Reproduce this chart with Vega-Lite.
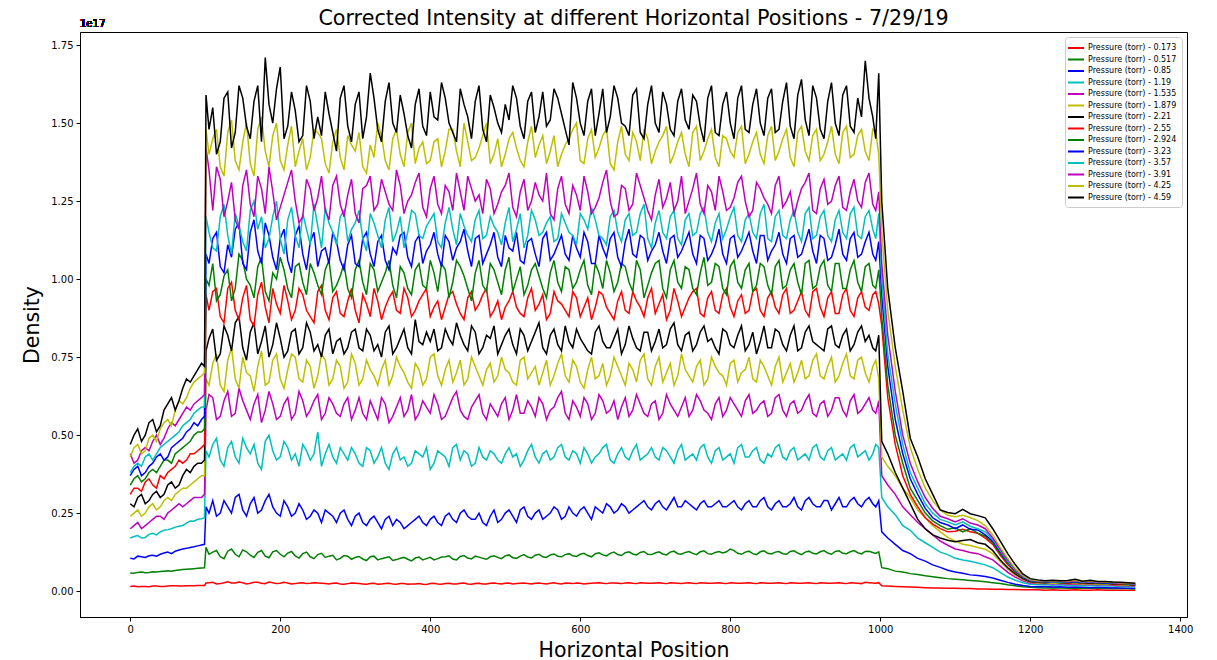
{
"$schema": "https://vega.github.io/schema/vega-lite/v6.json",
"width": 1107,
"height": 585,
"autosize": "none",
"padding": {"left": 80, "top": 32, "right": 30, "bottom": 43},
"title": {"text": "Corrected Intensity at different Horizontal Positions - 7/29/19", "font": "DejaVu Sans", "fontSize": 20.7, "fontWeight": "normal", "color": "black", "anchor": "middle", "frame": "group", "offset": -11},
"config": {
  "view": {"stroke": "black", "strokeWidth": 1},
  "font": "DejaVu Sans",
  "axis": {"labelFont": "DejaVu Sans", "labelFontSize": 10, "labelColor": "black", "tickColor": "black", "domainColor": "black", "tickSize": 4, "grid": false, "titleFont": "DejaVu Sans", "titleFontSize": 20.5, "titleFontWeight": "normal", "titleColor": "black", "labelPadding": 3}
},
"datasets": {
  "series": [
    {"key": "a", "label": "Pressure (torr) - 0.173"},
    {"key": "b", "label": "Pressure (torr) - 0.517"},
    {"key": "c", "label": "Pressure (torr) - 0.85"},
    {"key": "d", "label": "Pressure (torr) - 1.19"},
    {"key": "e", "label": "Pressure (torr) - 1.535"},
    {"key": "f", "label": "Pressure (torr) - 1.879"},
    {"key": "g", "label": "Pressure (torr) - 2.21"},
    {"key": "h", "label": "Pressure (torr) - 2.55"},
    {"key": "i", "label": "Pressure (torr) - 2.924"},
    {"key": "j", "label": "Pressure (torr) - 3.23"},
    {"key": "k", "label": "Pressure (torr) - 3.57"},
    {"key": "l", "label": "Pressure (torr) - 3.91"},
    {"key": "m", "label": "Pressure (torr) - 4.25"},
    {"key": "n", "label": "Pressure (torr) - 4.59"}
  ]
},
"data": {"values": [
{"x":0,"a":0.015,"b":0.058,"c":0.105,"d":0.17,"e":0.20,"f":0.24,"g":0.28,"h":0.31,"i":0.34,"j":0.37,"k":0.38,"l":0.44,"m":0.43,"n":0.47},
{"x":10,"a":0.014,"b":0.060,"c":0.112,"d":0.178,"e":0.22,"f":0.26,"g":0.30,"h":0.33,"i":0.37,"j":0.40,"k":0.41,"l":0.42,"m":0.47,"n":0.52},
{"x":20,"a":0.015,"b":0.059,"c":0.108,"d":0.172,"e":0.21,"f":0.25,"g":0.28,"h":0.35,"i":0.36,"j":0.38,"k":0.43,"l":0.46,"m":0.45,"n":0.50},
{"x":30,"a":0.016,"b":0.062,"c":0.115,"d":0.185,"e":0.23,"f":0.28,"g":0.31,"h":0.34,"i":0.39,"j":0.41,"k":0.42,"l":0.48,"m":0.50,"n":0.55},
{"x":40,"a":0.015,"b":0.063,"c":0.118,"d":0.19,"e":0.24,"f":0.27,"g":0.30,"h":0.37,"i":0.40,"j":0.44,"k":0.46,"l":0.47,"m":0.52,"n":0.53},
{"x":50,"a":0.016,"b":0.065,"c":0.125,"d":0.197,"e":0.25,"f":0.30,"g":0.34,"h":0.38,"i":0.42,"j":0.43,"k":0.48,"l":0.52,"m":0.55,"n":0.60},
{"x":60,"a":0.017,"b":0.066,"c":0.128,"d":0.205,"e":0.27,"f":0.31,"g":0.33,"h":0.40,"i":0.44,"j":0.47,"k":0.50,"l":0.53,"m":0.58,"n":0.58},
{"x":70,"a":0.016,"b":0.069,"c":0.135,"d":0.21,"e":0.27,"f":0.33,"g":0.37,"h":0.41,"i":0.46,"j":0.49,"k":0.53,"l":0.57,"m":0.60,"n":0.65},
{"x":80,"a":0.017,"b":0.071,"c":0.14,"d":0.225,"e":0.29,"f":0.34,"g":0.38,"h":0.44,"i":0.48,"j":0.52,"k":0.55,"l":0.58,"m":0.65,"n":0.67},
{"x":90,"a":0.018,"b":0.073,"c":0.145,"d":0.23,"e":0.30,"f":0.36,"g":0.41,"h":0.45,"i":0.51,"j":0.53,"k":0.58,"l":0.61,"m":0.68,"n":0.71},
{"x":99,"a":0.018,"b":0.075,"c":0.15,"d":0.235,"e":0.31,"f":0.37,"g":0.42,"h":0.47,"i":0.52,"j":0.56,"k":0.59,"l":0.63,"m":0.70,"n":0.72},
{"x":101,"a":0.026,"b":0.14,"c":0.27,"d":0.45,"e":0.58,"f":0.68,"g":0.77,"h":0.95,"i":1.0,"j":1.08,"k":1.2,"l":1.42,"m":1.48,"n":1.59},
{"x":110,"a":0.028,"b":0.125,"c":0.29,"d":0.47,"e":0.62,"f":0.73,"g":0.84,"h":0.96,"i":1.05,"j":1.13,"k":1.10,"l":1.22,"m":1.45,"n":1.55},
{"x":120,"a":0.024,"b":0.110,"c":0.25,"d":0.42,"e":0.56,"f":0.66,"g":0.76,"h":0.88,"i":0.95,"j":1.04,"k":1.20,"l":1.32,"m":1.36,"n":1.44},
{"x":130,"a":0.030,"b":0.128,"c":0.27,"d":0.46,"e":0.64,"f":0.74,"g":0.82,"h":0.97,"i":1.03,"j":1.11,"k":1.14,"l":1.25,"m":1.47,"n":1.60},
{"x":140,"a":0.026,"b":0.118,"c":0.30,"d":0.43,"e":0.57,"f":0.68,"g":0.86,"h":0.90,"i":0.97,"j":1.16,"k":1.21,"l":1.19,"m":1.38,"n":1.47},
{"x":150,"a":0.027,"b":0.132,"c":0.26,"d":0.49,"e":0.61,"f":0.75,"g":0.78,"h":0.94,"i":1.06,"j":1.05,"k":1.12,"l":1.30,"m":1.44,"n":1.58},
{"x":160,"a":0.025,"b":0.115,"c":0.28,"d":0.44,"e":0.55,"f":0.69,"g":0.83,"h":0.87,"i":0.98,"j":1.15,"k":1.22,"l":1.24,"m":1.37,"n":1.45},
{"x":170,"a":0.028,"b":0.124,"c":0.25,"d":0.41,"e":0.63,"f":0.72,"g":0.76,"h":0.95,"i":1.04,"j":1.09,"k":1.16,"l":1.33,"m":1.48,"n":1.62},
{"x":180,"a":0.024,"b":0.112,"c":0.29,"d":0.48,"e":0.58,"f":0.66,"g":0.85,"h":0.91,"i":0.96,"j":1.18,"k":1.10,"l":1.21,"m":1.41,"n":1.71},
{"x":190,"a":0.027,"b":0.126,"c":0.27,"d":0.45,"e":0.60,"f":0.74,"g":0.79,"h":0.97,"i":1.02,"j":1.07,"k":1.20,"l":1.28,"m":1.46,"n":1.50},
{"x":200,"a":0.025,"b":0.118,"c":0.24,"d":0.43,"e":0.56,"f":0.68,"g":0.81,"h":0.89,"i":1.07,"j":1.13,"k":1.13,"l":1.23,"m":1.38,"n":1.68},
{"x":210,"a":0.026,"b":0.122,"c":0.27,"d":0.46,"e":0.62,"f":0.71,"g":0.77,"h":0.93,"i":0.97,"j":1.06,"k":1.19,"l":1.31,"m":1.43,"n":1.49},
{"x":220,"a":0.024,"b":0.113,"c":0.25,"d":0.44,"e":0.57,"f":0.75,"g":0.84,"h":0.90,"i":1.04,"j":1.14,"k":1.14,"l":1.25,"m":1.36,"n":1.54},
{"x":230,"a":0.027,"b":0.120,"c":0.26,"d":0.47,"e":0.61,"f":0.67,"g":0.78,"h":0.95,"i":0.99,"j":1.08,"k":1.21,"l":1.20,"m":1.45,"n":1.46},
{"x":240,"a":0.025,"b":0.110,"c":0.24,"d":0.42,"e":0.58,"f":0.72,"g":0.83,"h":0.88,"i":1.05,"j":1.12,"k":1.11,"l":1.29,"m":1.39,"n":1.57},
{"x":250,"a":0.026,"b":0.117,"c":0.25,"d":0.51,"e":0.63,"f":0.69,"g":0.79,"h":0.96,"i":0.98,"j":1.04,"k":1.17,"l":1.26,"m":1.47,"n":1.52},
{"x":260,"a":0.024,"b":0.108,"c":0.26,"d":0.44,"e":0.57,"f":0.74,"g":0.82,"h":0.90,"i":1.03,"j":1.10,"k":1.23,"l":1.22,"m":1.37,"n":1.60},
{"x":270,"a":0.025,"b":0.115,"c":0.24,"d":0.43,"e":0.60,"f":0.68,"g":0.76,"h":0.94,"i":0.96,"j":1.15,"k":1.15,"l":1.30,"m":1.44,"n":1.47},
{"x":280,"a":0.023,"b":0.105,"c":0.25,"d":0.46,"e":0.56,"f":0.72,"g":0.81,"h":0.89,"i":1.01,"j":1.06,"k":1.20,"l":1.24,"m":1.39,"n":1.58},
{"x":290,"a":0.024,"b":0.112,"c":0.23,"d":0.42,"e":0.62,"f":0.67,"g":0.78,"h":0.93,"i":0.97,"j":1.11,"k":1.12,"l":1.27,"m":1.46,"n":1.49},
{"x":300,"a":0.025,"b":0.108,"c":0.24,"d":0.44,"e":0.58,"f":0.73,"g":0.84,"h":0.90,"i":1.03,"j":1.05,"k":1.18,"l":1.21,"m":1.41,"n":1.56},
{"x":310,"a":0.023,"b":0.103,"c":0.22,"d":0.40,"e":0.57,"f":0.68,"g":0.77,"h":0.95,"i":0.99,"j":1.13,"k":1.13,"l":1.29,"m":1.36,"n":1.45},
{"x":320,"a":0.024,"b":0.110,"c":0.23,"d":0.45,"e":0.61,"f":0.71,"g":0.82,"h":0.88,"i":1.05,"j":1.08,"k":1.21,"l":1.33,"m":1.43,"n":1.66},
{"x":330,"a":0.022,"b":0.100,"c":0.22,"d":0.43,"e":0.55,"f":0.66,"g":0.79,"h":0.93,"i":0.96,"j":1.12,"k":1.14,"l":1.24,"m":1.50,"n":1.48},
{"x":340,"a":0.024,"b":0.107,"c":0.23,"d":0.41,"e":0.60,"f":0.74,"g":0.83,"h":0.91,"i":1.02,"j":1.06,"k":1.19,"l":1.28,"m":1.38,"n":1.57},
{"x":350,"a":0.023,"b":0.098,"c":0.21,"d":0.44,"e":0.56,"f":0.69,"g":0.76,"h":0.96,"i":0.98,"j":1.10,"k":1.12,"l":1.22,"m":1.45,"n":1.50},
{"x":360,"a":0.024,"b":0.105,"c":0.22,"d":0.42,"e":0.62,"f":0.72,"g":0.81,"h":0.89,"i":1.04,"j":1.14,"k":1.20,"l":1.30,"m":1.40,"n":1.59},
{"x":370,"a":0.022,"b":0.102,"c":0.21,"d":0.40,"e":0.58,"f":0.67,"g":0.78,"h":0.94,"i":0.97,"j":1.07,"k":1.15,"l":1.25,"m":1.47,"n":1.46},
{"x":380,"a":0.023,"b":0.106,"c":0.23,"d":0.45,"e":0.55,"f":0.73,"g":0.87,"h":0.90,"i":1.03,"j":1.12,"k":1.21,"l":1.31,"m":1.37,"n":1.56},
{"x":390,"a":0.022,"b":0.100,"c":0.22,"d":0.43,"e":0.61,"f":0.66,"g":0.79,"h":0.95,"i":0.98,"j":1.05,"k":1.13,"l":1.23,"m":1.44,"n":1.49},
{"x":400,"a":0.024,"b":0.108,"c":0.23,"d":0.39,"e":0.57,"f":0.75,"g":0.80,"h":0.88,"i":1.06,"j":1.11,"k":1.19,"l":1.29,"m":1.38,"n":1.60},
{"x":410,"a":0.023,"b":0.104,"c":0.22,"d":0.45,"e":0.60,"f":0.69,"g":0.77,"h":0.93,"i":0.96,"j":1.08,"k":1.12,"l":1.24,"m":1.45,"n":1.51},
{"x":420,"a":0.024,"b":0.110,"c":0.24,"d":0.43,"e":0.56,"f":0.71,"g":0.84,"h":0.91,"i":1.03,"j":1.14,"k":1.18,"l":1.30,"m":1.41,"n":1.58},
{"x":430,"a":0.023,"b":0.103,"c":0.23,"d":0.46,"e":0.62,"f":0.67,"g":0.79,"h":0.96,"i":0.99,"j":1.06,"k":1.16,"l":1.22,"m":1.48,"n":1.47},
{"x":440,"a":0.025,"b":0.111,"c":0.25,"d":0.42,"e":0.58,"f":0.74,"g":0.82,"h":0.89,"i":1.04,"j":1.12,"k":1.21,"l":1.28,"m":1.36,"n":1.61},
{"x":450,"a":0.023,"b":0.106,"c":0.24,"d":0.44,"e":0.55,"f":0.68,"g":0.77,"h":0.94,"i":0.97,"j":1.09,"k":1.14,"l":1.33,"m":1.44,"n":1.52},
{"x":460,"a":0.024,"b":0.112,"c":0.23,"d":0.41,"e":0.61,"f":0.72,"g":0.83,"h":0.90,"i":1.02,"j":1.13,"k":1.19,"l":1.25,"m":1.39,"n":1.57},
{"x":470,"a":0.023,"b":0.105,"c":0.22,"d":0.43,"e":0.57,"f":0.66,"g":0.78,"h":0.95,"i":0.98,"j":1.05,"k":1.13,"l":1.21,"m":1.46,"n":1.48},
{"x":480,"a":0.025,"b":0.110,"c":0.24,"d":0.45,"e":0.60,"f":0.73,"g":0.81,"h":0.88,"i":1.05,"j":1.11,"k":1.20,"l":1.29,"m":1.37,"n":1.59},
{"x":490,"a":0.024,"b":0.108,"c":0.22,"d":0.42,"e":0.56,"f":0.69,"g":0.76,"h":0.93,"i":0.99,"j":1.07,"k":1.15,"l":1.24,"m":1.45,"n":1.50},
{"x":500,"a":0.025,"b":0.113,"c":0.25,"d":0.44,"e":0.62,"f":0.71,"g":0.82,"h":0.91,"i":1.03,"j":1.14,"k":1.18,"l":1.30,"m":1.40,"n":1.56},
{"x":510,"a":0.023,"b":0.107,"c":0.24,"d":0.43,"e":0.58,"f":0.67,"g":0.79,"h":0.96,"i":0.96,"j":1.09,"k":1.12,"l":1.23,"m":1.47,"n":1.62},
{"x":520,"a":0.025,"b":0.112,"c":0.26,"d":0.40,"e":0.57,"f":0.74,"g":0.84,"h":0.89,"i":1.04,"j":1.06,"k":1.21,"l":1.28,"m":1.38,"n":1.49},
{"x":530,"a":0.024,"b":0.109,"c":0.24,"d":0.45,"e":0.61,"f":0.68,"g":0.77,"h":0.94,"i":0.98,"j":1.12,"k":1.14,"l":1.22,"m":1.44,"n":1.57},
{"x":540,"a":0.025,"b":0.115,"c":0.25,"d":0.43,"e":0.56,"f":0.72,"g":0.83,"h":0.90,"i":1.05,"j":1.08,"k":1.19,"l":1.31,"m":1.39,"n":1.47},
{"x":550,"a":0.024,"b":0.110,"c":0.23,"d":0.44,"e":0.60,"f":0.70,"g":0.78,"h":0.95,"i":0.97,"j":1.13,"k":1.15,"l":1.25,"m":1.46,"n":1.60},
{"x":560,"a":0.025,"b":0.116,"c":0.25,"d":0.42,"e":0.58,"f":0.66,"g":0.82,"h":0.89,"i":1.02,"j":1.06,"k":1.20,"l":1.21,"m":1.41,"n":1.51},
{"x":570,"a":0.024,"b":0.112,"c":0.26,"d":0.46,"e":0.62,"f":0.73,"g":0.79,"h":0.93,"i":0.99,"j":1.11,"k":1.13,"l":1.29,"m":1.36,"n":1.58},
{"x":580,"a":0.026,"b":0.117,"c":0.24,"d":0.43,"e":0.57,"f":0.69,"g":0.85,"h":0.90,"i":1.04,"j":1.08,"k":1.18,"l":1.24,"m":1.43,"n":1.48},
{"x":590,"a":0.024,"b":0.113,"c":0.25,"d":0.45,"e":0.61,"f":0.74,"g":0.78,"h":0.96,"i":0.97,"j":1.14,"k":1.14,"l":1.30,"m":1.48,"n":1.63},
{"x":600,"a":0.025,"b":0.118,"c":0.26,"d":0.41,"e":0.56,"f":0.67,"g":0.81,"h":0.88,"i":1.03,"j":1.07,"k":1.21,"l":1.22,"m":1.38,"n":1.50},
{"x":610,"a":0.024,"b":0.114,"c":0.25,"d":0.44,"e":0.60,"f":0.71,"g":0.77,"h":0.94,"i":0.98,"j":1.12,"k":1.16,"l":1.28,"m":1.45,"n":1.57},
{"x":620,"a":0.026,"b":0.120,"c":0.27,"d":0.43,"e":0.57,"f":0.68,"g":0.83,"h":0.91,"i":1.05,"j":1.05,"k":1.19,"l":1.23,"m":1.39,"n":1.46},
{"x":630,"a":0.025,"b":0.116,"c":0.25,"d":0.46,"e":0.61,"f":0.73,"g":0.80,"h":0.95,"i":0.97,"j":1.10,"k":1.13,"l":1.31,"m":1.46,"n":1.61},
{"x":640,"a":0.026,"b":0.121,"c":0.27,"d":0.42,"e":0.58,"f":0.69,"g":0.78,"h":0.89,"i":1.02,"j":1.13,"k":1.20,"l":1.25,"m":1.37,"n":1.52},
{"x":650,"a":0.025,"b":0.117,"c":0.26,"d":0.44,"e":0.55,"f":0.72,"g":0.84,"h":0.93,"i":0.99,"j":1.07,"k":1.15,"l":1.21,"m":1.44,"n":1.58},
{"x":660,"a":0.026,"b":0.123,"c":0.27,"d":0.43,"e":0.62,"f":0.66,"g":0.79,"h":0.90,"i":1.04,"j":1.12,"k":1.19,"l":1.29,"m":1.40,"n":1.49},
{"x":670,"a":0.025,"b":0.119,"c":0.26,"d":0.45,"e":0.58,"f":0.71,"g":0.81,"h":0.96,"i":0.96,"j":1.08,"k":1.14,"l":1.24,"m":1.47,"n":1.59},
{"x":680,"a":0.027,"b":0.124,"c":0.28,"d":0.42,"e":0.60,"f":0.74,"g":0.77,"h":0.91,"i":1.03,"j":1.14,"k":1.21,"l":1.30,"m":1.38,"n":1.47},
{"x":690,"a":0.025,"b":0.118,"c":0.27,"d":0.44,"e":0.56,"f":0.68,"g":0.83,"h":0.94,"i":0.98,"j":1.06,"k":1.13,"l":1.22,"m":1.45,"n":1.56},
{"x":700,"a":0.026,"b":0.122,"c":0.28,"d":0.43,"e":0.61,"f":0.72,"g":0.80,"h":0.89,"i":1.05,"j":1.11,"k":1.18,"l":1.27,"m":1.41,"n":1.50},
{"x":710,"a":0.025,"b":0.119,"c":0.27,"d":0.46,"e":0.57,"f":0.67,"g":0.78,"h":0.95,"i":0.97,"j":1.09,"k":1.15,"l":1.23,"m":1.46,"n":1.60},
{"x":720,"a":0.027,"b":0.125,"c":0.28,"d":0.43,"e":0.60,"f":0.73,"g":0.84,"h":0.90,"i":1.03,"j":1.13,"k":1.20,"l":1.31,"m":1.37,"n":1.48},
{"x":730,"a":0.025,"b":0.120,"c":0.27,"d":0.45,"e":0.56,"f":0.69,"g":0.79,"h":0.93,"i":0.99,"j":1.07,"k":1.13,"l":1.25,"m":1.44,"n":1.57},
{"x":740,"a":0.026,"b":0.124,"c":0.29,"d":0.42,"e":0.62,"f":0.71,"g":0.82,"h":0.91,"i":1.04,"j":1.12,"k":1.19,"l":1.21,"m":1.40,"n":1.51},
{"x":750,"a":0.025,"b":0.121,"c":0.27,"d":0.44,"e":0.58,"f":0.67,"g":0.77,"h":0.96,"i":0.97,"j":1.08,"k":1.14,"l":1.29,"m":1.47,"n":1.59},
{"x":760,"a":0.027,"b":0.126,"c":0.28,"d":0.46,"e":0.61,"f":0.74,"g":0.83,"h":0.89,"i":1.02,"j":1.14,"k":1.21,"l":1.24,"m":1.38,"n":1.49},
{"x":770,"a":0.025,"b":0.120,"c":0.27,"d":0.43,"e":0.57,"f":0.68,"g":0.80,"h":0.94,"i":0.98,"j":1.06,"k":1.15,"l":1.30,"m":1.45,"n":1.58},
{"x":780,"a":0.026,"b":0.124,"c":0.28,"d":0.45,"e":0.60,"f":0.72,"g":0.78,"h":0.90,"i":1.05,"j":1.11,"k":1.18,"l":1.22,"m":1.39,"n":1.47},
{"x":790,"a":0.025,"b":0.122,"c":0.27,"d":0.42,"e":0.56,"f":0.69,"g":0.84,"h":0.95,"i":0.97,"j":1.08,"k":1.13,"l":1.28,"m":1.46,"n":1.56},
{"x":800,"a":0.027,"b":0.135,"c":0.28,"d":0.44,"e":0.62,"f":0.73,"g":0.79,"h":0.91,"i":1.04,"j":1.13,"k":1.20,"l":1.23,"m":1.41,"n":1.50},
{"x":810,"a":0.025,"b":0.121,"c":0.27,"d":0.46,"e":0.58,"f":0.67,"g":0.82,"h":0.93,"i":0.99,"j":1.07,"k":1.14,"l":1.31,"m":1.47,"n":1.58},
{"x":820,"a":0.026,"b":0.125,"c":0.28,"d":0.43,"e":0.61,"f":0.71,"g":0.77,"h":0.89,"i":1.03,"j":1.12,"k":1.19,"l":1.25,"m":1.37,"n":1.48},
{"x":830,"a":0.025,"b":0.120,"c":0.27,"d":0.45,"e":0.57,"f":0.68,"g":0.83,"h":0.96,"i":0.96,"j":1.09,"k":1.15,"l":1.22,"m":1.44,"n":1.56},
{"x":840,"a":0.027,"b":0.126,"c":0.29,"d":0.42,"e":0.60,"f":0.74,"g":0.80,"h":0.90,"i":1.05,"j":1.14,"k":1.21,"l":1.29,"m":1.40,"n":1.50},
{"x":850,"a":0.025,"b":0.121,"c":0.27,"d":0.44,"e":0.56,"f":0.69,"g":0.78,"h":0.94,"i":0.98,"j":1.06,"k":1.13,"l":1.24,"m":1.46,"n":1.58},
{"x":860,"a":0.026,"b":0.125,"c":0.28,"d":0.46,"e":0.62,"f":0.72,"g":0.84,"h":0.91,"i":1.04,"j":1.11,"k":1.20,"l":1.30,"m":1.38,"n":1.47},
{"x":870,"a":0.025,"b":0.120,"c":0.27,"d":0.43,"e":0.58,"f":0.67,"g":0.79,"h":0.95,"i":0.97,"j":1.08,"k":1.14,"l":1.23,"m":1.45,"n":1.57},
{"x":880,"a":0.027,"b":0.127,"c":0.28,"d":0.45,"e":0.60,"f":0.73,"g":0.82,"h":0.89,"i":1.03,"j":1.13,"k":1.19,"l":1.28,"m":1.39,"n":1.49},
{"x":890,"a":0.025,"b":0.122,"c":0.27,"d":0.42,"e":0.57,"f":0.70,"g":0.77,"h":0.93,"i":0.99,"j":1.07,"k":1.15,"l":1.25,"m":1.47,"n":1.59},
{"x":900,"a":0.026,"b":0.125,"c":0.29,"d":0.44,"e":0.61,"f":0.68,"g":0.83,"h":0.90,"i":1.05,"j":1.12,"k":1.21,"l":1.31,"m":1.41,"n":1.51},
{"x":910,"a":0.025,"b":0.121,"c":0.28,"d":0.46,"e":0.57,"f":0.74,"g":0.80,"h":0.96,"i":0.97,"j":1.09,"k":1.13,"l":1.22,"m":1.46,"n":1.62},
{"x":920,"a":0.027,"b":0.126,"c":0.27,"d":0.43,"e":0.60,"f":0.69,"g":0.78,"h":0.91,"i":1.04,"j":1.14,"k":1.20,"l":1.29,"m":1.38,"n":1.48},
{"x":930,"a":0.025,"b":0.122,"c":0.29,"d":0.45,"e":0.56,"f":0.72,"g":0.84,"h":0.94,"i":0.98,"j":1.06,"k":1.14,"l":1.24,"m":1.44,"n":1.57},
{"x":940,"a":0.026,"b":0.127,"c":0.28,"d":0.42,"e":0.62,"f":0.67,"g":0.79,"h":0.89,"i":1.05,"j":1.11,"k":1.19,"l":1.30,"m":1.40,"n":1.50},
{"x":950,"a":0.025,"b":0.121,"c":0.27,"d":0.44,"e":0.58,"f":0.73,"g":0.82,"h":0.95,"i":0.97,"j":1.08,"k":1.15,"l":1.23,"m":1.47,"n":1.59},
{"x":960,"a":0.027,"b":0.126,"c":0.29,"d":0.46,"e":0.61,"f":0.69,"g":0.77,"h":0.90,"i":1.03,"j":1.13,"k":1.21,"l":1.28,"m":1.39,"n":1.49},
{"x":970,"a":0.025,"b":0.123,"c":0.28,"d":0.43,"e":0.57,"f":0.74,"g":0.83,"h":0.94,"i":0.99,"j":1.07,"k":1.14,"l":1.25,"m":1.46,"n":1.58},
{"x":980,"a":0.028,"b":0.127,"c":0.29,"d":0.45,"e":0.60,"f":0.70,"g":0.80,"h":0.91,"i":1.04,"j":1.12,"k":1.20,"l":1.31,"m":1.41,"n":1.70},
{"x":990,"a":0.026,"b":0.124,"c":0.28,"d":0.44,"e":0.58,"f":0.72,"g":0.78,"h":0.95,"i":0.98,"j":1.08,"k":1.16,"l":1.24,"m":1.48,"n":1.52},
{"x":998,"a":0.027,"b":0.126,"c":0.29,"d":0.46,"e":0.61,"f":0.68,"g":0.82,"h":0.92,"i":1.03,"j":1.12,"k":1.21,"l":1.28,"m":1.40,"n":1.66},
{"x":1002,"a":0.017,"b":0.075,"c":0.19,"d":0.30,"e":0.37,"f":0.43,"g":0.48,"h":0.85,"i":0.88,"j":0.95,"k":1.0,"l":1.05,"m":1.15,"n":1.25},
{"x":1010,"a":0.016,"b":0.072,"c":0.17,"d":0.27,"e":0.34,"f":0.40,"g":0.44,"h":0.62,"i":0.66,"j":0.72,"k":0.76,"l":0.82,"m":0.90,"n":0.97},
{"x":1020,"a":0.015,"b":0.064,"c":0.15,"d":0.245,"e":0.31,"f":0.37,"g":0.38,"h":0.47,"i":0.50,"j":0.55,"k":0.60,"l":0.64,"m":0.72,"n":0.78},
{"x":1030,"a":0.014,"b":0.061,"c":0.13,"d":0.21,"e":0.27,"f":0.33,"g":0.33,"h":0.37,"i":0.41,"j":0.44,"k":0.47,"l":0.50,"m":0.58,"n":0.64},
{"x":1040,"a":0.013,"b":0.056,"c":0.12,"d":0.195,"e":0.245,"f":0.30,"g":0.28,"h":0.31,"i":0.33,"j":0.36,"k":0.38,"l":0.41,"m":0.46,"n":0.49},
{"x":1050,"a":0.012,"b":0.053,"c":0.105,"d":0.17,"e":0.22,"f":0.26,"g":0.23,"h":0.27,"i":0.29,"j":0.31,"k":0.33,"l":0.35,"m":0.39,"n":0.43},
{"x":1060,"a":0.011,"b":0.049,"c":0.096,"d":0.155,"e":0.20,"f":0.235,"g":0.20,"h":0.235,"i":0.25,"j":0.265,"k":0.28,"l":0.30,"m":0.33,"n":0.36},
{"x":1070,"a":0.010,"b":0.046,"c":0.084,"d":0.14,"e":0.18,"f":0.21,"g":0.18,"h":0.215,"i":0.225,"j":0.235,"k":0.25,"l":0.265,"m":0.29,"n":0.31},
{"x":1080,"a":0.010,"b":0.043,"c":0.076,"d":0.125,"e":0.16,"f":0.19,"g":0.17,"h":0.20,"i":0.21,"j":0.22,"k":0.23,"l":0.24,"m":0.26,"n":0.26},
{"x":1090,"a":0.009,"b":0.040,"c":0.067,"d":0.117,"e":0.147,"f":0.172,"g":0.163,"h":0.19,"i":0.198,"j":0.212,"k":0.222,"l":0.232,"m":0.243,"n":0.252},
{"x":1100,"a":0.009,"b":0.038,"c":0.061,"d":0.105,"e":0.135,"f":0.160,"g":0.158,"h":0.192,"i":0.203,"j":0.200,"k":0.212,"l":0.222,"m":0.238,"n":0.248},
{"x":1110,"a":0.008,"b":0.036,"c":0.057,"d":0.100,"e":0.13,"f":0.150,"g":0.162,"h":0.198,"i":0.19,"j":0.212,"k":0.222,"l":0.232,"m":0.243,"n":0.262},
{"x":1120,"a":0.008,"b":0.034,"c":0.052,"d":0.096,"e":0.124,"f":0.146,"g":0.165,"h":0.19,"i":0.20,"j":0.198,"k":0.208,"l":0.218,"m":0.236,"n":0.248},
{"x":1130,"a":0.007,"b":0.032,"c":0.050,"d":0.090,"e":0.12,"f":0.140,"g":0.155,"h":0.185,"i":0.186,"j":0.196,"k":0.2,"l":0.212,"m":0.226,"n":0.242},
{"x":1140,"a":0.007,"b":0.030,"c":0.047,"d":0.084,"e":0.11,"f":0.134,"g":0.15,"h":0.17,"i":0.176,"j":0.18,"k":0.19,"l":0.2,"m":0.21,"n":0.235},
{"x":1150,"a":0.006,"b":0.027,"c":0.042,"d":0.075,"e":0.10,"f":0.12,"g":0.13,"h":0.15,"i":0.155,"j":0.16,"k":0.165,"l":0.17,"m":0.18,"n":0.20},
{"x":1160,"a":0.006,"b":0.024,"c":0.035,"d":0.06,"e":0.08,"f":0.095,"g":0.10,"h":0.115,"i":0.12,"j":0.125,"k":0.13,"l":0.135,"m":0.14,"n":0.16},
{"x":1170,"a":0.005,"b":0.020,"c":0.028,"d":0.045,"e":0.06,"f":0.07,"g":0.075,"h":0.085,"i":0.09,"j":0.092,"k":0.095,"l":0.1,"m":0.105,"n":0.12},
{"x":1180,"a":0.005,"b":0.017,"c":0.022,"d":0.035,"e":0.045,"f":0.05,"g":0.055,"h":0.06,"i":0.063,"j":0.065,"k":0.067,"l":0.07,"m":0.073,"n":0.085},
{"x":1190,"a":0.004,"b":0.014,"c":0.018,"d":0.027,"e":0.033,"f":0.037,"g":0.04,"h":0.043,"i":0.045,"j":0.046,"k":0.047,"l":0.049,"m":0.05,"n":0.055},
{"x":1200,"a":0.004,"b":0.012,"c":0.015,"d":0.022,"e":0.026,"f":0.028,"g":0.03,"h":0.032,"i":0.033,"j":0.034,"k":0.035,"l":0.036,"m":0.037,"n":0.04},
{"x":1210,"a":0.004,"b":0.011,"c":0.014,"d":0.02,"e":0.024,"f":0.026,"g":0.028,"h":0.029,"i":0.03,"j":0.031,"k":0.032,"l":0.033,"m":0.034,"n":0.036},
{"x":1220,"a":0.003,"b":0.010,"c":0.015,"d":0.021,"e":0.025,"f":0.027,"g":0.027,"h":0.028,"i":0.029,"j":0.03,"k":0.031,"l":0.032,"m":0.033,"n":0.033},
{"x":1230,"a":0.004,"b":0.011,"c":0.013,"d":0.019,"e":0.023,"f":0.025,"g":0.029,"h":0.03,"i":0.028,"j":0.029,"k":0.03,"l":0.031,"m":0.032,"n":0.035},
{"x":1240,"a":0.003,"b":0.010,"c":0.014,"d":0.02,"e":0.024,"f":0.026,"g":0.027,"h":0.028,"i":0.03,"j":0.031,"k":0.03,"l":0.032,"m":0.034,"n":0.033},
{"x":1250,"a":0.003,"b":0.009,"c":0.012,"d":0.018,"e":0.022,"f":0.024,"g":0.026,"h":0.027,"i":0.028,"j":0.029,"k":0.031,"l":0.03,"m":0.032,"n":0.034},
{"x":1260,"a":0.004,"b":0.010,"c":0.013,"d":0.019,"e":0.023,"f":0.025,"g":0.028,"h":0.029,"i":0.029,"j":0.03,"k":0.032,"l":0.033,"m":0.035,"n":0.038},
{"x":1270,"a":0.003,"b":0.009,"c":0.012,"d":0.017,"e":0.021,"f":0.023,"g":0.025,"h":0.026,"i":0.027,"j":0.028,"k":0.029,"l":0.03,"m":0.031,"n":0.032},
{"x":1280,"a":0.003,"b":0.009,"c":0.011,"d":0.018,"e":0.022,"f":0.024,"g":0.026,"h":0.028,"i":0.028,"j":0.03,"k":0.03,"l":0.031,"m":0.033,"n":0.035},
{"x":1290,"a":0.004,"b":0.010,"c":0.012,"d":0.017,"e":0.02,"f":0.022,"g":0.024,"h":0.025,"i":0.026,"j":0.027,"k":0.028,"l":0.029,"m":0.03,"n":0.031},
{"x":1300,"a":0.003,"b":0.008,"c":0.011,"d":0.016,"e":0.021,"f":0.023,"g":0.025,"h":0.026,"i":0.027,"j":0.026,"k":0.028,"l":0.03,"m":0.029,"n":0.031},
{"x":1310,"a":0.003,"b":0.009,"c":0.010,"d":0.016,"e":0.019,"f":0.021,"g":0.023,"h":0.024,"i":0.025,"j":0.026,"k":0.027,"l":0.027,"m":0.028,"n":0.029},
{"x":1320,"a":0.003,"b":0.008,"c":0.010,"d":0.015,"e":0.018,"f":0.02,"g":0.022,"h":0.023,"i":0.024,"j":0.025,"k":0.026,"l":0.026,"m":0.027,"n":0.028},
{"x":1330,"a":0.003,"b":0.008,"c":0.009,"d":0.014,"e":0.017,"f":0.019,"g":0.021,"h":0.022,"i":0.023,"j":0.024,"k":0.024,"l":0.025,"m":0.026,"n":0.027},
{"x":1340,"a":0.003,"b":0.007,"c":0.009,"d":0.013,"e":0.016,"f":0.018,"g":0.019,"h":0.02,"i":0.021,"j":0.022,"k":0.022,"l":0.023,"m":0.024,"n":0.025},
{"x":5,"a":0.016,"b":0.057,"c":0.103,"d":0.175,"e":0.21,"f":0.25,"g":0.27,"h":0.33,"i":0.36,"j":0.39,"k":0.40,"l":0.41,"m":0.46,"n":0.50},
{"x":15,"a":0.015,"b":0.061,"c":0.110,"d":0.170,"e":0.20,"f":0.24,"g":0.31,"h":0.32,"i":0.35,"j":0.37,"k":0.40,"l":0.45,"m":0.44,"n":0.48},
{"x":25,"a":0.014,"b":0.060,"c":0.113,"d":0.182,"e":0.22,"f":0.27,"g":0.29,"h":0.36,"i":0.38,"j":0.40,"k":0.44,"l":0.45,"m":0.49,"n":0.54},
{"x":35,"a":0.016,"b":0.061,"c":0.112,"d":0.18,"e":0.24,"f":0.26,"g":0.32,"h":0.33,"i":0.38,"j":0.43,"k":0.44,"l":0.50,"m":0.48,"n":0.51},
{"x":45,"a":0.015,"b":0.064,"c":0.122,"d":0.195,"e":0.23,"f":0.29,"g":0.31,"h":0.36,"i":0.42,"j":0.42,"k":0.47,"l":0.49,"m":0.54,"n":0.58},
{"x":55,"a":0.017,"b":0.064,"c":0.12,"d":0.20,"e":0.26,"f":0.29,"g":0.35,"h":0.39,"i":0.41,"j":0.46,"k":0.49,"l":0.54,"m":0.53,"n":0.62},
{"x":65,"a":0.016,"b":0.068,"c":0.132,"d":0.208,"e":0.28,"f":0.32,"g":0.34,"h":0.42,"i":0.45,"j":0.48,"k":0.51,"l":0.55,"m":0.61,"n":0.61},
{"x":75,"a":0.017,"b":0.070,"c":0.137,"d":0.218,"e":0.28,"f":0.33,"g":0.39,"h":0.42,"i":0.47,"j":0.51,"k":0.54,"l":0.59,"m":0.62,"n":0.68},
{"x":85,"a":0.017,"b":0.072,"c":0.142,"d":0.224,"e":0.30,"f":0.35,"g":0.40,"h":0.44,"i":0.50,"j":0.54,"k":0.57,"l":0.60,"m":0.67,"n":0.69},
{"x":95,"a":0.018,"b":0.074,"c":0.148,"d":0.232,"e":0.30,"f":0.37,"g":0.41,"h":0.46,"i":0.51,"j":0.55,"k":0.59,"l":0.62,"m":0.69,"n":0.73},
{"x":105,"a":0.027,"b":0.118,"c":0.25,"d":0.43,"e":0.63,"f":0.66,"g":0.81,"h":0.90,"i":0.98,"j":1.05,"k":1.15,"l":1.35,"m":1.40,"n":1.48},
{"x":115,"a":0.023,"b":0.130,"c":0.24,"d":0.49,"e":0.55,"f":0.76,"g":0.74,"h":0.97,"i":0.93,"j":1.15,"k":1.09,"l":1.36,"m":1.48,"n":1.40},
{"x":125,"a":0.027,"b":0.104,"c":0.29,"d":0.40,"e":0.61,"f":0.64,"g":0.85,"h":0.86,"i":1.01,"j":1.02,"k":1.24,"l":1.20,"m":1.33,"n":1.58},
{"x":135,"a":0.026,"b":0.135,"c":0.25,"d":0.48,"e":0.56,"f":0.78,"g":0.77,"h":0.99,"i":0.93,"j":1.07,"k":1.08,"l":1.31,"m":1.51,"n":1.42},
{"x":145,"a":0.029,"b":0.110,"c":0.31,"d":0.41,"e":0.65,"f":0.65,"g":0.88,"h":0.87,"i":1.08,"j":1.18,"k":1.17,"l":1.16,"m":1.35,"n":1.62},
{"x":155,"a":0.023,"b":0.126,"c":0.24,"d":0.46,"e":0.58,"f":0.70,"g":0.74,"h":0.98,"i":1.00,"j":1.03,"k":1.09,"l":1.35,"m":1.50,"n":1.49},
{"x":165,"a":0.028,"b":0.108,"c":0.30,"d":0.47,"e":0.60,"f":0.64,"g":0.86,"h":0.85,"i":0.94,"j":1.19,"k":1.25,"l":1.20,"m":1.33,"n":1.57},
{"x":175,"a":0.025,"b":0.130,"c":0.26,"d":0.39,"e":0.54,"f":0.77,"g":0.80,"h":0.99,"i":1.07,"j":1.05,"k":1.20,"l":1.29,"m":1.52,"n":1.44},
{"x":185,"a":0.029,"b":0.107,"c":0.31,"d":0.50,"e":0.64,"f":0.67,"g":0.75,"h":0.86,"i":0.93,"j":1.14,"k":1.13,"l":1.36,"m":1.36,"n":1.56},
{"x":195,"a":0.024,"b":0.130,"c":0.25,"d":0.42,"e":0.55,"f":0.76,"g":0.86,"h":0.92,"i":1.00,"j":1.03,"k":1.25,"l":1.19,"m":1.50,"n":1.61},
{"x":205,"a":0.028,"b":0.110,"c":0.29,"d":0.48,"e":0.60,"f":0.65,"g":0.75,"h":0.98,"i":1.03,"j":1.16,"k":1.08,"l":1.27,"m":1.35,"n":1.45},
{"x":215,"a":0.023,"b":0.127,"c":0.24,"d":0.42,"e":0.55,"f":0.76,"g":0.83,"h":0.87,"i":0.94,"j":1.02,"k":1.23,"l":1.35,"m":1.49,"n":1.60},
{"x":225,"a":0.026,"b":0.106,"c":0.28,"d":0.40,"e":0.64,"f":0.68,"g":0.76,"h":0.97,"i":1.05,"j":1.17,"k":1.10,"l":1.18,"m":1.41,"n":1.44},
{"x":235,"a":0.024,"b":0.125,"c":0.23,"d":0.45,"e":0.56,"f":0.74,"g":0.86,"h":0.90,"i":0.95,"j":1.03,"k":1.16,"l":1.32,"m":1.35,"n":1.62},
{"x":245,"a":0.027,"b":0.104,"c":0.26,"d":0.44,"e":0.61,"f":0.65,"g":0.77,"h":0.86,"i":1.02,"j":1.15,"k":1.24,"l":1.22,"m":1.48,"n":1.45},
{"x":255,"a":0.025,"b":0.121,"c":0.22,"d":0.40,"e":0.55,"f":0.76,"g":0.75,"h":0.98,"i":0.95,"j":1.09,"k":1.10,"l":1.33,"m":1.45,"n":1.46},
{"x":265,"a":0.023,"b":0.112,"c":0.25,"d":0.47,"e":0.62,"f":0.66,"g":0.84,"h":0.87,"i":1.06,"j":1.05,"k":1.18,"l":1.19,"m":1.34,"n":1.53},
{"x":275,"a":0.026,"b":0.100,"c":0.22,"d":0.41,"e":0.57,"f":0.74,"g":0.80,"h":0.96,"i":0.98,"j":1.12,"k":1.11,"l":1.33,"m":1.48,"n":1.41},
{"x":285,"a":0.022,"b":0.114,"c":0.26,"d":0.44,"e":0.60,"f":0.65,"g":0.76,"h":0.88,"i":1.05,"j":1.03,"k":1.22,"l":1.20,"m":1.35,"n":1.62},
{"x":295,"a":0.026,"b":0.102,"c":0.21,"d":0.46,"e":0.55,"f":0.76,"g":0.83,"h":0.97,"i":0.94,"j":1.14,"k":1.16,"l":1.32,"m":1.43,"n":1.44},
{"x":305,"a":0.024,"b":0.111,"c":0.25,"d":0.41,"e":0.62,"f":0.66,"g":0.78,"h":0.86,"i":1.06,"j":1.04,"k":1.22,"l":1.18,"m":1.47,"n":1.60},
{"x":315,"a":0.022,"b":0.098,"c":0.21,"d":0.46,"e":0.55,"f":0.74,"g":0.84,"h":0.92,"i":0.95,"j":1.15,"k":1.09,"l":1.30,"m":1.34,"n":1.52},
{"x":325,"a":0.025,"b":0.112,"c":0.24,"d":0.41,"e":0.58,"f":0.69,"g":0.77,"h":0.97,"i":1.03,"j":1.04,"k":1.18,"l":1.22,"m":1.39,"n":1.58},
{"x":335,"a":0.023,"b":0.104,"c":0.20,"d":0.46,"e":0.62,"f":0.71,"g":0.75,"h":0.87,"i":0.99,"j":1.14,"k":1.10,"l":1.32,"m":1.46,"n":1.44},
{"x":345,"a":0.025,"b":0.110,"c":0.24,"d":0.39,"e":0.54,"f":0.66,"g":0.85,"h":0.94,"i":1.06,"j":1.03,"k":1.23,"l":1.24,"m":1.35,"n":1.63},
{"x":355,"a":0.022,"b":0.101,"c":0.23,"d":0.46,"e":0.59,"f":0.75,"g":0.78,"h":0.90,"i":0.94,"j":1.08,"k":1.15,"l":1.35,"m":1.48,"n":1.47},
{"x":365,"a":0.024,"b":0.108,"c":0.20,"d":0.43,"e":0.56,"f":0.70,"g":0.84,"h":0.97,"i":1.02,"j":1.15,"k":1.10,"l":1.21,"m":1.36,"n":1.53},
{"x":375,"a":0.023,"b":0.097,"c":0.22,"d":0.41,"e":0.63,"f":0.65,"g":0.76,"h":0.88,"i":0.95,"j":1.04,"k":1.22,"l":1.27,"m":1.50,"n":1.42},
{"x":385,"a":0.024,"b":0.109,"c":0.24,"d":0.44,"e":0.57,"f":0.71,"g":0.80,"h":0.93,"i":1.05,"j":1.14,"k":1.14,"l":1.34,"m":1.42,"n":1.61},
{"x":395,"a":0.021,"b":0.104,"c":0.21,"d":0.46,"e":0.59,"f":0.68,"g":0.83,"h":0.97,"i":0.97,"j":1.09,"k":1.17,"l":1.20,"m":1.37,"n":1.46},
{"x":405,"a":0.025,"b":0.100,"c":0.24,"d":0.41,"e":0.63,"f":0.76,"g":0.84,"h":0.91,"i":1.02,"j":1.15,"k":1.21,"l":1.33,"m":1.44,"n":1.52},
{"x":415,"a":0.022,"b":0.109,"c":0.21,"d":0.44,"e":0.55,"f":0.66,"g":0.78,"h":0.87,"i":1.05,"j":1.04,"k":1.10,"l":1.21,"m":1.36,"n":1.63},
{"x":425,"a":0.025,"b":0.113,"c":0.25,"d":0.40,"e":0.59,"f":0.74,"g":0.81,"h":0.95,"i":0.94,"j":1.12,"k":1.23,"l":1.28,"m":1.48,"n":1.50},
{"x":435,"a":0.023,"b":0.100,"c":0.22,"d":0.47,"e":0.64,"f":0.70,"g":0.86,"h":0.92,"i":1.06,"j":1.10,"k":1.11,"l":1.34,"m":1.41,"n":1.44},
{"x":445,"a":0.026,"b":0.114,"c":0.26,"d":0.45,"e":0.56,"f":0.66,"g":0.79,"h":0.87,"i":1.01,"j":1.16,"k":1.17,"l":1.22,"m":1.50,"n":1.56},
{"x":455,"a":0.022,"b":0.103,"c":0.23,"d":0.40,"e":0.59,"f":0.75,"g":0.85,"h":0.96,"i":0.93,"j":1.04,"k":1.12,"l":1.29,"m":1.38,"n":1.45},
{"x":465,"a":0.025,"b":0.109,"c":0.25,"d":0.46,"e":0.63,"f":0.69,"g":0.76,"h":0.92,"i":1.06,"j":1.14,"k":1.22,"l":1.27,"m":1.42,"n":1.62},
{"x":475,"a":0.023,"b":0.102,"c":0.21,"d":0.42,"e":0.55,"f":0.71,"g":0.82,"h":0.97,"i":0.96,"j":1.08,"k":1.14,"l":1.32,"m":1.50,"n":1.44},
{"x":485,"a":0.026,"b":0.113,"c":0.26,"d":0.44,"e":0.58,"f":0.67,"g":0.85,"h":0.90,"i":1.03,"j":1.15,"k":1.17,"l":1.21,"m":1.40,"n":1.55},
{"x":495,"a":0.023,"b":0.104,"c":0.23,"d":0.41,"e":0.60,"f":0.75,"g":0.79,"h":0.87,"i":0.95,"j":1.04,"k":1.11,"l":1.28,"m":1.36,"n":1.47},
{"x":505,"a":0.026,"b":0.116,"c":0.26,"d":0.46,"e":0.55,"f":0.70,"g":0.84,"h":0.93,"i":1.07,"j":1.10,"k":1.23,"l":1.34,"m":1.45,"n":1.51},
{"x":515,"a":0.024,"b":0.105,"c":0.22,"d":0.44,"e":0.63,"f":0.66,"g":0.76,"h":0.91,"i":1.00,"j":1.15,"k":1.16,"l":1.20,"m":1.42,"n":1.58},
{"x":525,"a":0.026,"b":0.117,"c":0.27,"d":0.42,"e":0.57,"f":0.75,"g":0.82,"h":0.88,"i":0.95,"j":1.05,"k":1.10,"l":1.32,"m":1.36,"n":1.45},
{"x":535,"a":0.023,"b":0.106,"c":0.23,"d":0.47,"e":0.59,"f":0.70,"g":0.80,"h":0.97,"i":1.03,"j":1.13,"k":1.22,"l":1.25,"m":1.49,"n":1.60},
{"x":545,"a":0.026,"b":0.118,"c":0.26,"d":0.41,"e":0.62,"f":0.66,"g":0.86,"h":0.92,"i":1.01,"j":1.04,"k":1.14,"l":1.27,"m":1.43,"n":1.52},
{"x":555,"a":0.023,"b":0.108,"c":0.24,"d":0.45,"e":0.55,"f":0.74,"g":0.76,"h":0.87,"i":0.94,"j":1.15,"k":1.18,"l":1.34,"m":1.37,"n":1.49},
{"x":565,"a":0.027,"b":0.119,"c":0.27,"d":0.43,"e":0.59,"f":0.69,"g":0.84,"h":0.96,"i":1.06,"j":1.08,"k":1.12,"l":1.19,"m":1.46,"n":1.61},
{"x":575,"a":0.023,"b":0.110,"c":0.23,"d":0.47,"e":0.64,"f":0.76,"g":0.77,"h":0.92,"i":0.96,"j":1.14,"k":1.21,"l":1.33,"m":1.40,"n":1.53},
{"x":585,"a":0.025,"b":0.120,"c":0.27,"d":0.42,"e":0.55,"f":0.67,"g":0.80,"h":0.88,"i":1.03,"j":1.06,"k":1.15,"l":1.21,"m":1.45,"n":1.43},
{"x":595,"a":0.026,"b":0.111,"c":0.24,"d":0.44,"e":0.59,"f":0.72,"g":0.84,"h":0.94,"i":0.99,"j":1.10,"k":1.11,"l":1.27,"m":1.50,"n":1.58},
{"x":605,"a":0.023,"b":0.121,"c":0.27,"d":0.46,"e":0.62,"f":0.65,"g":0.79,"h":0.91,"i":1.06,"j":1.15,"k":1.19,"l":1.33,"m":1.37,"n":1.46},
{"x":615,"a":0.025,"b":0.110,"c":0.23,"d":0.41,"e":0.55,"f":0.75,"g":0.76,"h":0.87,"i":0.95,"j":1.05,"k":1.23,"l":1.21,"m":1.48,"n":1.61},
{"x":625,"a":0.027,"b":0.123,"c":0.26,"d":0.44,"e":0.63,"f":0.69,"g":0.85,"h":0.96,"i":1.02,"j":1.14,"k":1.14,"l":1.26,"m":1.42,"n":1.53},
{"x":635,"a":0.024,"b":0.113,"c":0.28,"d":0.47,"e":0.57,"f":0.66,"g":0.78,"h":0.91,"i":1.06,"j":1.07,"k":1.11,"l":1.35,"m":1.48,"n":1.47},
{"x":645,"a":0.026,"b":0.125,"c":0.25,"d":0.41,"e":0.61,"f":0.75,"g":0.81,"h":0.87,"i":0.96,"j":1.15,"k":1.22,"l":1.20,"m":1.35,"n":1.62},
{"x":655,"a":0.024,"b":0.114,"c":0.28,"d":0.46,"e":0.59,"f":0.69,"g":0.76,"h":0.96,"i":1.05,"j":1.04,"k":1.12,"l":1.30,"m":1.49,"n":1.50},
{"x":665,"a":0.027,"b":0.126,"c":0.25,"d":0.42,"e":0.56,"f":0.73,"g":0.85,"h":0.89,"i":0.99,"j":1.16,"k":1.21,"l":1.22,"m":1.38,"n":1.46},
{"x":675,"a":0.024,"b":0.116,"c":0.27,"d":0.47,"e":0.63,"f":0.67,"g":0.78,"h":0.93,"i":1.06,"j":1.07,"k":1.15,"l":1.34,"m":1.44,"n":1.61},
{"x":685,"a":0.026,"b":0.127,"c":0.29,"d":0.43,"e":0.57,"f":0.76,"g":0.83,"h":0.88,"i":0.94,"j":1.13,"k":1.24,"l":1.26,"m":1.48,"n":1.45},
{"x":695,"a":0.025,"b":0.117,"c":0.26,"d":0.46,"e":0.60,"f":0.66,"g":0.77,"h":0.97,"i":1.02,"j":1.09,"k":1.10,"l":1.19,"m":1.37,"n":1.62},
{"x":705,"a":0.027,"b":0.126,"c":0.29,"d":0.42,"e":0.55,"f":0.75,"g":0.84,"h":0.92,"i":1.06,"j":1.15,"k":1.22,"l":1.32,"m":1.44,"n":1.47},
{"x":715,"a":0.024,"b":0.116,"c":0.26,"d":0.45,"e":0.63,"f":0.70,"g":0.79,"h":0.87,"i":0.94,"j":1.05,"k":1.13,"l":1.26,"m":1.49,"n":1.56},
{"x":725,"a":0.026,"b":0.128,"c":0.30,"d":0.41,"e":0.58,"f":0.66,"g":0.86,"h":0.97,"i":1.06,"j":1.14,"k":1.22,"l":1.22,"m":1.40,"n":1.46},
{"x":735,"a":0.024,"b":0.118,"c":0.27,"d":0.47,"e":0.59,"f":0.76,"g":0.77,"h":0.88,"i":0.97,"j":1.09,"k":1.11,"l":1.33,"m":1.47,"n":1.61},
{"x":745,"a":0.027,"b":0.127,"c":0.28,"d":0.43,"e":0.56,"f":0.69,"g":0.83,"h":0.94,"i":1.03,"j":1.15,"k":1.21,"l":1.25,"m":1.36,"n":1.48},
{"x":755,"a":0.024,"b":0.117,"c":0.26,"d":0.42,"e":0.63,"f":0.72,"g":0.79,"h":0.97,"i":0.95,"j":1.05,"k":1.15,"l":1.34,"m":1.49,"n":1.57},
{"x":765,"a":0.026,"b":0.129,"c":0.29,"d":0.47,"e":0.58,"f":0.66,"g":0.85,"h":0.88,"i":1.07,"j":1.13,"k":1.23,"l":1.21,"m":1.41,"n":1.44},
{"x":775,"a":0.025,"b":0.118,"c":0.27,"d":0.41,"e":0.55,"f":0.75,"g":0.81,"h":0.96,"i":0.99,"j":1.08,"k":1.12,"l":1.28,"m":1.48,"n":1.62},
{"x":785,"a":0.027,"b":0.127,"c":0.29,"d":0.46,"e":0.62,"f":0.70,"g":0.76,"h":0.89,"i":1.04,"j":1.16,"k":1.21,"l":1.33,"m":1.36,"n":1.46},
{"x":795,"a":0.024,"b":0.126,"c":0.27,"d":0.43,"e":0.58,"f":0.66,"g":0.83,"h":0.97,"i":0.95,"j":1.05,"k":1.16,"l":1.22,"m":1.45,"n":1.60},
{"x":805,"a":0.026,"b":0.130,"c":0.29,"d":0.41,"e":0.60,"f":0.74,"g":0.78,"h":0.88,"i":1.06,"j":1.14,"k":1.23,"l":1.26,"m":1.39,"n":1.45},
{"x":815,"a":0.025,"b":0.118,"c":0.26,"d":0.47,"e":0.56,"f":0.70,"g":0.85,"h":0.95,"i":0.97,"j":1.09,"k":1.12,"l":1.33,"m":1.49,"n":1.62},
{"x":825,"a":0.027,"b":0.128,"c":0.29,"d":0.43,"e":0.63,"f":0.75,"g":0.79,"h":0.90,"i":1.05,"j":1.15,"k":1.21,"l":1.20,"m":1.40,"n":1.47},
{"x":835,"a":0.024,"b":0.117,"c":0.27,"d":0.46,"e":0.58,"f":0.67,"g":0.76,"h":0.97,"i":0.98,"j":1.05,"k":1.13,"l":1.31,"m":1.47,"n":1.61},
{"x":845,"a":0.026,"b":0.129,"c":0.30,"d":0.41,"e":0.61,"f":0.72,"g":0.85,"h":0.88,"i":1.04,"j":1.14,"k":1.24,"l":1.26,"m":1.37,"n":1.46},
{"x":855,"a":0.025,"b":0.119,"c":0.26,"d":0.43,"e":0.57,"f":0.66,"g":0.78,"h":0.96,"i":0.95,"j":1.09,"k":1.12,"l":1.21,"m":1.49,"n":1.61},
{"x":865,"a":0.027,"b":0.127,"c":0.29,"d":0.47,"e":0.63,"f":0.75,"g":0.83,"h":0.89,"i":1.06,"j":1.15,"k":1.22,"l":1.33,"m":1.41,"n":1.48},
{"x":875,"a":0.024,"b":0.118,"c":0.27,"d":0.42,"e":0.56,"f":0.70,"g":0.77,"h":0.97,"i":0.98,"j":1.05,"k":1.13,"l":1.25,"m":1.48,"n":1.63},
{"x":885,"a":0.026,"b":0.129,"c":0.30,"d":0.46,"e":0.61,"f":0.67,"g":0.85,"h":0.90,"i":1.05,"j":1.14,"k":1.22,"l":1.20,"m":1.36,"n":1.45},
{"x":895,"a":0.025,"b":0.117,"c":0.26,"d":0.43,"e":0.58,"f":0.74,"g":0.78,"h":0.96,"i":0.95,"j":1.08,"k":1.12,"l":1.29,"m":1.49,"n":1.64},
{"x":905,"a":0.027,"b":0.128,"c":0.30,"d":0.42,"e":0.63,"f":0.69,"g":0.85,"h":0.88,"i":1.06,"j":1.16,"k":1.23,"l":1.34,"m":1.38,"n":1.46},
{"x":915,"a":0.024,"b":0.119,"c":0.27,"d":0.47,"e":0.56,"f":0.76,"g":0.79,"h":0.97,"i":0.98,"j":1.05,"k":1.14,"l":1.21,"m":1.48,"n":1.58},
{"x":925,"a":0.026,"b":0.130,"c":0.29,"d":0.42,"e":0.61,"f":0.68,"g":0.77,"h":0.88,"i":1.06,"j":1.13,"k":1.22,"l":1.32,"m":1.40,"n":1.45},
{"x":935,"a":0.025,"b":0.118,"c":0.26,"d":0.46,"e":0.58,"f":0.75,"g":0.85,"h":0.96,"i":0.96,"j":1.07,"k":1.12,"l":1.25,"m":1.49,"n":1.63},
{"x":945,"a":0.027,"b":0.129,"c":0.30,"d":0.43,"e":0.62,"f":0.69,"g":0.78,"h":0.89,"i":1.05,"j":1.16,"k":1.22,"l":1.33,"m":1.37,"n":1.46},
{"x":955,"a":0.024,"b":0.120,"c":0.27,"d":0.42,"e":0.56,"f":0.76,"g":0.84,"h":0.97,"i":0.97,"j":1.06,"k":1.13,"l":1.22,"m":1.49,"n":1.62},
{"x":965,"a":0.026,"b":0.130,"c":0.30,"d":0.47,"e":0.63,"f":0.68,"g":0.79,"h":0.88,"i":1.06,"j":1.15,"k":1.23,"l":1.32,"m":1.40,"n":1.47},
{"x":975,"a":0.024,"b":0.119,"c":0.27,"d":0.44,"e":0.58,"f":0.75,"g":0.85,"h":0.96,"i":0.96,"j":1.08,"k":1.13,"l":1.23,"m":1.48,"n":1.52},
{"x":985,"a":0.027,"b":0.128,"c":0.30,"d":0.42,"e":0.62,"f":0.67,"g":0.82,"h":0.90,"i":1.05,"j":1.15,"k":1.22,"l":1.34,"m":1.38,"n":1.58},
{"x":994,"a":0.025,"b":0.121,"c":0.27,"d":0.47,"e":0.57,"f":0.74,"g":0.77,"h":0.96,"i":0.97,"j":1.06,"k":1.13,"l":1.22,"m":1.47,"n":1.45}
]},
"layer": [
  {
    "transform": [
      {"fold": ["a","b","c","d","e","f","g","h","i","j","k","l","m","n"], "as": ["key","y"]},
      {"lookup": "key", "from": {"data": {"name": "series"}, "key": "key", "fields": ["label"]}}
    ],
    "mark": {"type": "line", "strokeWidth": 1.5, "clip": true},
    "encoding": {
      "x": {"field": "x", "type": "quantitative", "scale": {"domain": [-67, 1409], "nice": false, "zero": false}, "axis": {"title": "Horizontal Position", "values": [0,200,400,600,800,1000,1200,1400], "format": "d", "titlePadding": 6}},
      "y": {"field": "y", "type": "quantitative", "scale": {"domain": [-0.083, 1.792], "nice": false, "zero": false}, "axis": {"title": "Density", "values": [0,0.25,0.5,0.75,1,1.25,1.5,1.75], "format": ".2f", "titlePadding": 8}},
      "color": {"field": "label", "type": "nominal", "sort": null,
        "scale": {"domain": ["Pressure (torr) - 0.173","Pressure (torr) - 0.517","Pressure (torr) - 0.85","Pressure (torr) - 1.19","Pressure (torr) - 1.535","Pressure (torr) - 1.879","Pressure (torr) - 2.21","Pressure (torr) - 2.55","Pressure (torr) - 2.924","Pressure (torr) - 3.23","Pressure (torr) - 3.57","Pressure (torr) - 3.91","Pressure (torr) - 4.25","Pressure (torr) - 4.59"],
                  "range": ["#ff0000","#008000","#0000ff","#00bfbf","#bf00bf","#bfbf00","#000000","#ff0000","#008000","#0000ff","#00bfbf","#bf00bf","#bfbf00","#000000"]},
        "legend": {"title": null, "orient": "top-right", "offset": 5, "fillColor": "white", "strokeColor": "#cccccc", "padding": 5, "cornerRadius": 3, "symbolType": "M-1.6,0H1.6", "symbolSize": 100, "symbolStrokeWidth": 2, "labelFontSize": 8, "labelFont": "DejaVu Sans", "labelColor": "black", "rowPadding": 1.5, "labelOffset": 6}
      }
    }
  },
  {
    "mark": {"type": "text", "text": "1e17", "align": "left", "baseline": "bottom", "dy": -3, "fontSize": 10, "font": "DejaVu Sans", "color": "black"},
    "encoding": {"x": {"datum": -67, "type": "quantitative"}, "y": {"datum": 1.792, "type": "quantitative"}}
  }
]
}
